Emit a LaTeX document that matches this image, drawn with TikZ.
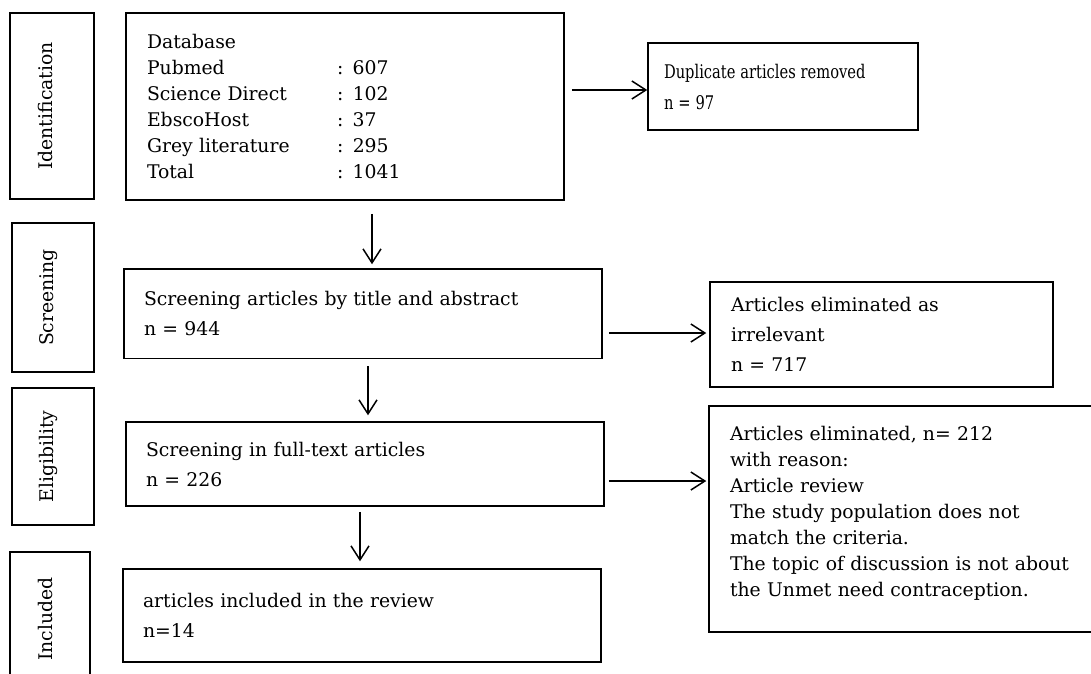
\documentclass[tikz,border=0pt]{standalone}
\usepackage{graphicx}
\usepackage{fontspec}
\setmainfont{DejaVu Serif}
\usetikzlibrary{arrows.meta}
\begin{document}
\begin{tikzpicture}[x=1pt,y=-1pt,
  box/.style={draw, line width=1.5pt, rectangle, align=left, inner xsep=20pt, inner ysep=0pt,
    font=\fontsize{18.8}{26}\selectfont},
  sidebox/.style={draw, line width=1.5pt, rectangle, inner sep=0pt},
  sidetext/.style={rotate=90, inner sep=0pt, text height=14pt, text depth=4pt,
    font=\fontsize{18.8}{26}\selectfont},
  arr/.style={line width=1.5pt, -{Straight Barb[length=14pt,width=18pt,line width=1.5pt]}}
]
\useasboundingbox (0,0) rectangle (1091,673);
\clip (0,0) rectangle (1091,673);

% side phase boxes
\node[sidebox, minimum width=84pt, minimum height=186pt] (sid) at (52,106) {};
\node[sidebox, minimum width=82pt, minimum height=149pt] (sscr) at (53,297.5) {};
\node[sidebox, minimum width=82pt, minimum height=137pt] (selig) at (53,456.5) {};
\node[sidebox, minimum width=80pt, minimum height=148pt] (sinc) at (50,626) {};
\node[sidetext] (tid) at (47.5,106) {Identification};
\node[sidetext] (tscr) at (48.5,297.5) {Screening};
\node[sidetext] (telig) at (48.5,456.5) {Eligibility};
\node[sidetext] (tinc) at (47,619) {Included};

% main boxes
\node[box, inner xsep=21pt, text width=396pt, minimum height=187pt] (db) at (345,106.5)
  {Database\\
   \makebox[190pt][l]{Pubmed}: 607\\
   \makebox[190pt][l]{Science Direct}: 102\\
   \makebox[190pt][l]{EbscoHost}: 37\\
   \makebox[190pt][l]{Grey literature}: 295\\
   \makebox[190pt][l]{Total}: 1041};
\node[box, inner xsep=16pt, text width=238pt, minimum height=87pt,
  font=\fontsize{18.8}{31}\selectfont] (dup) at (783,86.5)
  {\scalebox{0.78}[1]{Duplicate articles removed}\\ \scalebox{0.78}[1]{n = 97}};
\node[box, text width=438pt, minimum height=89.5pt, font=\fontsize{18.8}{30}\selectfont] (scr) at (363,313.75)
  {Screening articles by title and abstract\\ n = 944};
\node[box, inner xsep=21pt, text width=301pt, minimum height=105pt, font=\fontsize{18.8}{30}\selectfont] (irr) at (881.5,334.5)
  {Articles eliminated as\\ irrelevant\\ n = 717};
\node[box, text width=438pt, minimum height=84pt, font=\fontsize{18.8}{30}\selectfont] (ft) at (365,464)
  {Screening in full-text articles\\ n = 226};
\node[box, inner xsep=21pt, text width=349pt, minimum height=226pt] (elim) at (904.5,519)
  {Articles eliminated, n= 212\\
   with reason:\\
   Article review\\
   The study population does not\\
   match the criteria.\\
   The topic of discussion is not about\\
   the Unmet need contraception.\\[-10pt]\mbox{}};
\node[box, text width=438pt, minimum height=93pt, font=\fontsize{18.8}{30}\selectfont] (inc) at (362,615.5)
  {articles included in the review\\ n=14};

% arrow guide coordinates
\coordinate (x1) at (372,0);
\coordinate (x2) at (368,0);
\coordinate (x3) at (360,0);
\coordinate (y1) at (0,90);
\coordinate (y2) at (0,333);
\coordinate (y3) at (0,481);

\draw[arr, shorten <=13pt, shorten >=4pt] (db.south -| x1) -- (scr.north -| x1);
\draw[arr, shorten <=7pt, shorten >=6pt] (scr.south -| x2) -- (ft.north -| x2);
\draw[arr, shorten <=5pt, shorten >=7pt] (ft.south -| x3) -- (inc.north -| x3);
\draw[arr, shorten <=7pt] (db.east |- y1) -- (dup.west |- y1);
\draw[arr, shorten <=6pt, shorten >=3pt] (scr.east |- y2) -- (irr.west |- y2);
\draw[arr, shorten <=4pt, shorten >=2pt] (ft.east |- y3) -- (elim.west |- y3);
\end{tikzpicture}
\end{document}
